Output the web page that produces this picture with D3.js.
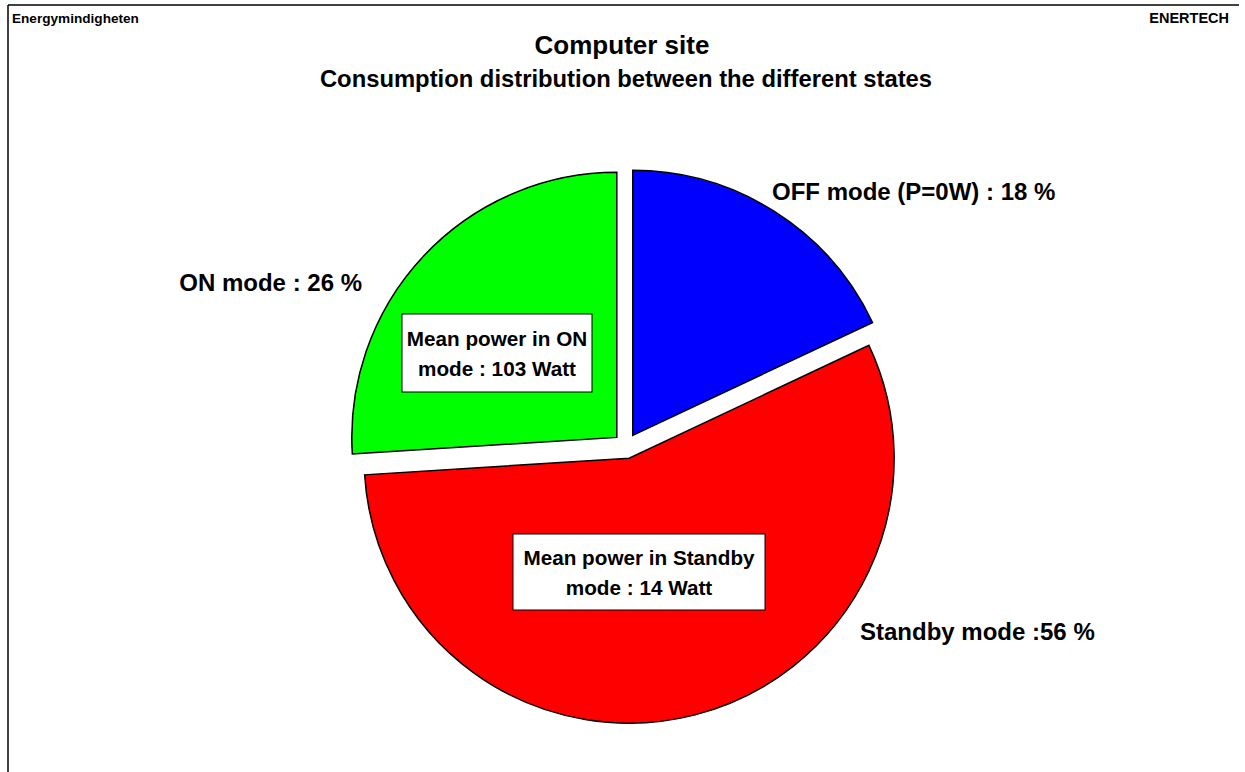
<!DOCTYPE html>
<html lang="en">
<head>
    <meta charset="UTF-8">
    <title>Computer site</title>
    <script src="https://d3js.org/d3.v7.min.js"></script>
    <style>
        body {
            margin: 0;
            padding: 0;
            background: #fff;
            font-family: "Liberation Sans", Arial, sans-serif;
        }
        svg {
            display: block;
        }
        text {
            font-weight: bold;
            fill: #000;
        }
        .slice {
            stroke: #000;
            stroke-width: 1.5px;
        }
        .note-box {
            fill: #fff;
            stroke: #000;
            stroke-width: 1px;
        }
    </style>
</head>
<body>
    <svg id="chart" width="1245" height="772"></svg>

    <script>
        // Data
        const states = ["OFF", "Standby", "ON"];
        const shares = [18, 56, 26];
        const colors = ["#0000ff", "#ff0000", "#00ff00"];
        const sliceLabels = ["OFF mode (P=0W) : 18 %", "Standby mode :56 %", "ON mode : 26 %"];
        const notes = [
            null,
            ["Mean power in Standby", "mode : 14 Watt"],
            ["Mean power in ON", "mode : 103 Watt"]
        ];

        // Layout
        const cx = 626, cy = 446, radius = 265, explode = 12.6;
        const labelPos = [
            { dx: 146, dy: -246, anchor: "start" },
            { dx: 234, dy: 194, anchor: "start" },
            { dx: -264, dy: -155, anchor: "end" }
        ];
        const notePos = [
            null,
            { dx: 13, dy: 126, w: 252, h: 76 },
            { dx: -129, dy: -93, w: 190, h: 78 }
        ];

        const svg = d3.select("#chart");

        // frame (top and left only)
        svg.append("line").attr("x1", 8).attr("y1", 5).attr("x2", 1239).attr("y2", 5)
            .attr("stroke", "#000").attr("stroke-width", 1.5);
        svg.append("line").attr("x1", 8).attr("y1", 5).attr("x2", 8).attr("y2", 772)
            .attr("stroke", "#000").attr("stroke-width", 1.5);

        svg.append("text").attr("x", 12).attr("y", 23)
            .style("font-size", "13.6px").text("Energymindigheten");
        svg.append("text").attr("x", 1229).attr("y", 23).attr("text-anchor", "end")
            .style("font-size", "14.5px").text("ENERTECH");

        svg.append("text").attr("x", 622).attr("y", 54).attr("text-anchor", "middle")
            .style("font-size", "26px").text("Computer site");
        svg.append("text").attr("x", 626).attr("y", 87).attr("text-anchor", "middle")
            .style("font-size", "23.8px").text("Consumption distribution between the different states");

        const pie = d3.pie().sort(null).value(d => d);
        const arc = d3.arc().innerRadius(0).outerRadius(radius);
        const arcs = pie(shares);

        const g = svg.append("g").attr("transform", `translate(${cx},${cy})`);

        arcs.forEach((a, i) => {
            const mid = (a.startAngle + a.endAngle) / 2;
            const ox = explode * Math.sin(mid);
            const oy = -explode * Math.cos(mid);
            g.append("path")
                .attr("class", "slice")
                .attr("transform", `translate(${ox},${oy})`)
                .attr("fill", colors[i])
                .attr("d", arc(a));
        });

        // notes inside slices
        notes.forEach((lines, i) => {
            if (!lines) return;
            const p = notePos[i];
            g.append("rect")
                .attr("class", "note-box")
                .attr("x", p.dx - p.w / 2)
                .attr("y", p.dy - p.h / 2)
                .attr("width", p.w)
                .attr("height", p.h);
            lines.forEach((t, k) => {
                g.append("text")
                    .attr("x", p.dx)
                    .attr("y", p.dy - 7 + k * 30)
                    .attr("text-anchor", "middle")
                    .style("font-size", "20.7px")
                    .text(t);
            });
        });

        // slice labels
        sliceLabels.forEach((t, i) => {
            const p = labelPos[i];
            g.append("text")
                .attr("x", p.dx)
                .attr("y", p.dy)
                .attr("text-anchor", p.anchor)
                .style("font-size", "24px")
                .text(t);
        });
    </script>
</body>
</html>
